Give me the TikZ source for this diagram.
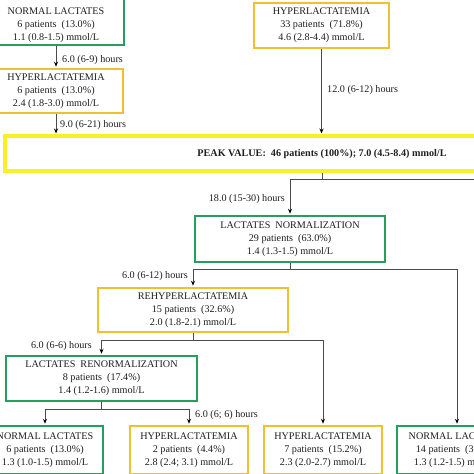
\documentclass[tikz,border=0pt]{standalone}
\usepackage{fontspec}
\setmainfont{Liberation Serif}
\usetikzlibrary{arrows.meta}
\definecolor{gbord}{RGB}{34,160,92}
\definecolor{obord}{RGB}{240,192,48}
\definecolor{ybord}{RGB}{250,240,40}
\definecolor{conncol}{RGB}{75,75,75}
\definecolor{txtc}{RGB}{30,30,30}
\begin{document}
\begin{tikzpicture}[x=1bp,y=-1bp,
 box/.style={draw, line width=2.5bp, rectangle, align=center, inner sep=0pt, font=\fontsize{10.2}{13}\selectfont, text=txtc},
 gbox/.style={box, draw=gbord},
 obox/.style={box, draw=obord},
 pbox/.style={box, draw=ybord, line width=4bp},
 txtonly/.style={align=center, inner sep=0pt, font=\fontsize{10.2}{13}\selectfont, text=txtc},
 cline/.style={draw=conncol, line width=0.9bp},
 arr/.style={cline, shorten >=1bp, -{Stealth[length=5bp,width=4bp,black]}},
 lbl/.style={font=\fontsize{10.2}{12}\selectfont, text=txtc, inner sep=0pt}]
\useasboundingbox (0,0) rectangle (474,474);
\clip (0,0) rectangle (474,474);

% boxes
\node[gbox, minimum width=136bp, minimum height=49bp] (nl1) at (56,20.5) {};
\node[txtonly] (nl1t) at (56,25) {NORMAL LACTATES\\6 patients\ \ (13.0\%)\\1.1 (0.8-1.5) mmol/L};
\node[obox, minimum width=134bp, minimum height=44bp] (hy1) at (56,91) {HYPERLACTATEMIA\\6 patients\ \ (13.0\%)\\2.4 (1.8-3.0) mmol/L};
\node[obox, minimum width=135bp, minimum height=45bp] (hy33) at (321.5,25.5) {HYPERLACTATEMIA\\33 patients\ \ (71.8\%)\\4.6 (2.8-4.4) mmol/L};
\node[pbox, minimum width=634bp, minimum height=35bp, font=\bfseries\fontsize{10.2}{12}\selectfont] (peak) at (322,154) {PEAK VALUE:\ \ 46 patients (100\%); 7.0 (4.5-8.4) mmol/L};
\node[gbox, minimum width=190bp, minimum height=46bp] (ln) at (290,239) {LACTATES\ \ NORMALIZATION\\29 patients\ \ (63.0\%)\\1.4 (1.3-1.5) mmol/L};
\node[obox, minimum width=190bp, minimum height=44bp] (rehy) at (193,310) {REHYPERLACTATEMIA\\15 patients\ \ (32.6\%)\\2.0 (1.8-2.1) mmol/L};
\node[gbox, minimum width=191bp, minimum height=45bp] (renorm) at (101.5,378.5) {LACTATES\ \ RENORMALIZATION\\8 patients\ \ (17.4\%)\\1.4 (1.2-1.6) mmol/L};
\node[gbox, minimum width=116bp, minimum height=48bp] (nl2) at (45,450) {NORMAL LACTATES\\6 patients\ \ (13.0\%)\\1.3 (1.0-1.5) mmol/L};
\node[obox, minimum width=118bp, minimum height=48bp] (hy2) at (189,450) {HYPERLACTATEMIA\\2 patients\ \ (4.4\%)\\2.8 (2.4; 3.1) mmol/L};
\node[obox, minimum width=118bp, minimum height=48bp] (hy7) at (323,450) {HYPERLACTATEMIA\\7 patients\ \ (15.2\%)\\2.3 (2.0-2.7) mmol/L};
\node[gbox, minimum width=120bp, minimum height=48bp] (nl3) at (457,450) {NORMAL LACTATES\\14 patients\ \ (30.4\%)\\1.3 (1.2-1.5) mmol/L};

% connectors
\draw[arr] (nl1.south) -- (hy1.north);
\draw[arr] (hy1.south) -- (hy1.south |- peak.north);
\draw[arr] (hy33.south) -- (hy33.south |- peak.north);

\draw[cline] (peak.south) -- ++(0,6) coordinate (j1);
\coordinate (jr) at (480,0);
\draw[arr] (j1) -| (ln.north);
\draw[cline] (j1) -- (j1 -| jr);

\draw[cline] (ln.south) -- ++(0,6) coordinate (j2);
\draw[arr] (j2) -| (rehy.north);
\draw[arr] (j2) -| (nl3.north);

\draw[cline] (rehy.south) -- ++(0,7) coordinate (j3);
\draw[arr] (j3) -| (renorm.north);
\draw[arr] (j3) -| (hy7.north);

\draw[cline] (renorm.south) -- ++(0,7) coordinate (j4);
\draw[arr] (j4) -| (nl2.north);
\draw[arr] (j4) -| (hy2.north);

% labels
\node[lbl, anchor=west] (l1) at (62,60) {6.0 (6-9) hours};
\node[lbl, anchor=west] (l2) at (60,125) {9.0 (6-21) hours};
\node[lbl, anchor=west] (l3) at (327,90) {12.0 (6-12) hours};
\node[lbl, anchor=east] (l4) at (285,199) {18.0 (15-30) hours};
\node[lbl, anchor=east] (l5) at (188,276) {6.0 (6-12) hours};
\node[lbl, anchor=east] (l6) at (92,346) {6.0 (6-6) hours};
\node[lbl, anchor=west] (l7) at (195,415) {6.0 (6; 6) hours};
\end{tikzpicture}
\end{document}
